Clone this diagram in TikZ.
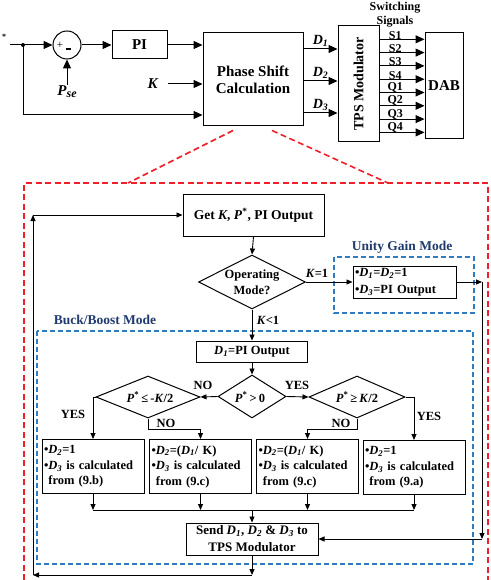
\documentclass[tikz,border=0pt]{standalone}
\usepackage{fontspec}
\setmainfont{Liberation Serif}
\usepackage{tikz}
\usetikzlibrary{arrows.meta,shapes.geometric,calc}
\definecolor{dashred}{HTML}{F0202A}
\definecolor{dashblue}{HTML}{2E7BC0}
\definecolor{navy}{HTML}{1F3A6E}
\newcommand{\Dv}[1]{\textit{D}\textsubscript{\textit{#1}}}
\newcommand{\Ps}{\textit{P}\textsuperscript{*}}
\begin{document}
\begin{tikzpicture}[x=1pt,y=-1pt,
    box/.style={draw, line width=1pt, align=center, inner sep=2pt,
                font=\bfseries\fontsize{12.5}{15.5}\selectfont},
    bigbox/.style={box, font=\bfseries\fontsize{15}{17}\selectfont},
    dia/.style={draw, diamond, line width=1pt, inner sep=0pt},
    lbl/.style={inner sep=1pt, align=center, font=\bfseries\fontsize{12.5}{16}\selectfont},
    title/.style={inner sep=1pt, text=navy, font=\bfseries\fontsize{13.5}{15}\selectfont},
    arr/.style={-{Stealth[inset=0pt,length=6pt,width=5pt]}, line width=0.9pt},
    bigarr/.style={-{Stealth[inset=0pt,length=9pt,width=8pt]}, line width=1pt},
    reddash/.style={dashred, line width=1.6pt, dash pattern=on 6pt off 3.5pt},
    bluedash/.style={dashblue, line width=1.8pt, dash pattern=on 5pt off 3pt},
  ]
  \useasboundingbox (0,0) rectangle (490,580);

  % control loop
  \node[inner sep=0pt, font=\bfseries\fontsize{8}{8}\selectfont] (star) at (4,37) {*};
  \coordinate (in) at (10,45);
  \coordinate (jn) at (23,45);
  \fill (jn) circle (2pt);
  \node[circle, draw, line width=1pt, minimum size=28pt, inner sep=0pt] (sum) at (67,45) {};
  \node[inner sep=0pt, font=\fontsize{11}{11}\selectfont] (plus) at (60,45) {+};
  \node[inner sep=0pt] (minus) at (68,49) {\rule{5pt}{1.6pt}};
  \node[bigbox, minimum width=55pt, minimum height=28pt] (pi) at (139.5,45) {PI};
  \node[bigbox, minimum width=100pt, minimum height=93pt] (ps) at (253,79.5) {Phase Shift\\Calculation};
  \node[lbl, font=\bfseries\fontsize{15}{17}\selectfont] (k) at (153,84) {\textit{K}};
  \node[lbl, font=\bfseries\fontsize{15}{17}\selectfont] (pse) at (67,92) {\textit{P\raisebox{-2pt}{\fontsize{12}{12}\selectfont se}}};
  \draw[bigarr] (in) -- (sum.west);
  \draw[bigarr] (sum.east) -- (pi.west);
  \draw[bigarr] (pi.east) -- (pi.east -| ps.west);
  \draw[bigarr] ([xshift=8pt]k.east) -- (k -| ps.west);
  \draw[bigarr] (pse.north) -- (sum.south);
  \draw[bigarr] (jn) |- (ps.west |- 0,115);

  % modulator and converter
  \node[draw, line width=1pt, minimum width=41pt, minimum height=116pt] (tps) at (358.5,84) {};
  \node[rotate=90, inner sep=0pt, font=\bfseries\fontsize{14}{14}\selectfont] (tpslbl) at (tps.center) {TPS Modulator};
  \node[bigbox, minimum width=38pt, minimum height=106pt] (dab) at (444,86) {DAB};
  \node[lbl, font=\bfseries\fontsize{12}{14}\selectfont] (sw) at (395,14.5) {Switching\\Signals};
  \foreach \y/\d in {49/1,81/2,113/3}{
    \draw[bigarr] (ps.east |- 0,\y) -- (tps.west |- 0,\y)
      node[midway, above=1pt, lbl, font=\bfseries\fontsize{14}{14}\selectfont] {\Dv{\d}};
  }
  \foreach \s [count=\i] in {S1,S2,S3,S4,Q1,Q2,Q3,Q4}{
    \pgfmathsetmacro{\yy}{26+13.3*\i}
    \draw[bigarr] (tps.east |- 0,\yy) -- (dab.west |- 0,\yy)
      node[pos=0.35, above=-0.5pt, inner sep=0pt, font=\bfseries\fontsize{12}{12}\selectfont] {\s};
  }

  % zoom frame
  \draw[reddash] ($(ps.south)+(-20,4)$) -- (128,183);
  \draw[reddash] ($(ps.south)+(19,4)$) -- (388,183);
  \draw[reddash] (24,580) -- (24,183) -- (488,183) -- (488,580);

  % mode boxes
  \draw[bluedash] (334,257) rectangle (474,313);
  \draw[bluedash] (37,331) rectangle (473,564);
  \node[title] (ugm) at (402,247) {Unity Gain Mode};
  \node[title] (bbm) at (105,320) {Buck/Boost Mode};

  % flowchart
  \node[box, minimum width=141pt, minimum height=42pt, font=\bfseries\fontsize{13.5}{16}\selectfont] (get) at (253.5,215) {Get \textit{K}, \Ps, PI Output};
  \node[dia, minimum width=107pt, minimum height=54pt] (op) at (252,282) {};
  \node[lbl] (optxt) at (252,282) {Operating\\Mode?};
  \node[box, text width=99pt, align=left, minimum height=32pt, font=\bfseries\fontsize{12.5}{17}\selectfont] (unity) at (404.5,282)
    {\textbullet\Dv{1}=\Dv{2}=1\\\textbullet\Dv{3}=PI Output};
  \node[lbl] (k1) at (317,273) {\textit{K}=1};
  \node[lbl] (klt) at (268,320) {\textit{K}<1};
  \node[box, minimum width=111pt, minimum height=21pt] (d1) at (252,351.5) {\Dv{1}=PI Output};
  \node[dia, minimum width=68pt, minimum height=43pt] (pz) at (252,396.5) {};
  \node[lbl] (pztxt) at (250,397) {\Ps\,>\,0};
  \node[dia, minimum width=104pt, minimum height=42pt] (ld) at (148,397) {};
  \node[lbl] (ldtxt) at (150,397) {\Ps\,≤\,-\textit{K}/2};
  \node[dia, minimum width=96pt, minimum height=42pt] (rd) at (357,397) {};
  \node[lbl] (rdtxt) at (357,397) {\Ps\,≥\,\textit{K}/2};
  \node[lbl] (no1) at (203,385) {NO};
  \node[lbl] (yes1) at (297,385) {YES};
  \node[lbl] (yes2) at (73,414) {YES};
  \node[lbl] (no2) at (166,423) {NO};
  \node[lbl] (no3) at (341,423) {NO};
  \node[lbl] (yes3) at (429,416) {YES};
  \node[box, text width=98pt, align=left, minimum height=54pt] (b1) at (93,466.5)
    {\textbullet\Dv{2}=1\\\textbullet\Dv{3} is calculated\\\phantom{\textbullet}from (9.b)};
  \node[box, text width=98pt, align=left, minimum height=54pt] (b2) at (200.5,466.5)
    {\textbullet\Dv{2}=(\Dv{1}/ K)\\\textbullet\Dv{3} is calculated\\\phantom{\textbullet}from (9.c)};
  \node[box, text width=98pt, align=left, minimum height=54pt] (b3) at (307.5,466.5)
    {\textbullet\Dv{2}=(\Dv{1}/ K)\\\textbullet\Dv{3} is calculated\\\phantom{\textbullet}from (9.c)};
  \node[box, text width=98pt, align=left, minimum height=54pt] (b4) at (414,467.5)
    {\textbullet\Dv{2}=1\\\textbullet\Dv{3} is calculated\\\phantom{\textbullet}from (9.a)};
  \node[box, minimum width=132pt, minimum height=32pt, font=\bfseries\fontsize{13}{17}\selectfont] (send) at (252,539)
    {Send \Dv{1}, \Dv{2} \& \Dv{3} to\\TPS Modulator};

  % flowchart connectors
  \draw[arr] (get.south) -- (op.north);
  \draw[arr] (op.east) -- (unity.west);
  \draw[arr] (op.south) -- (d1.north);
  \draw[arr] (d1.south) -- (pz.north);
  \draw[arr] (pz.west) -- (ld.east);
  \draw[arr] (pz.east) -- (rd.west);
  \draw[arr] (ld.west) -| (b1.north);
  \draw[arr] (ld.south) -- ++(0,11) -| (b2.north);
  \draw[arr] (rd.south) -- ++(0,11) -| (b3.north);
  \draw[arr] (rd.east) -| (b4.north);
  \coordinate (mg) at (252,510);
  \foreach \b in {b1,b2,b3,b4}{
    \draw[arr] (\b.south) -- (\b.south |- mg);
  }
  \draw[line width=0.9pt] (b1.south |- mg) -- (b4.south |- mg);
  \draw[arr] (mg) -- (send.north);

  % return paths
  \coordinate (ur) at (482,282);
  \draw[arr] (unity.east) -- (ur);
  \draw[arr] (ur) -- (ur |- send.east);
  \draw[arr] (ur |- send.east) -- (send.east);
  \coordinate (lb) at (33,575);
  \coordinate (lt) at (33,215);
  \draw[arr] (send.south) -- (send.south |- lb);
  \draw[arr] (send.south |- lb) -- (lb);
  \draw[arr] (lb) -- (lt);
  \draw[arr] (lt) -- (get.west);
\end{tikzpicture}
\end{document}
